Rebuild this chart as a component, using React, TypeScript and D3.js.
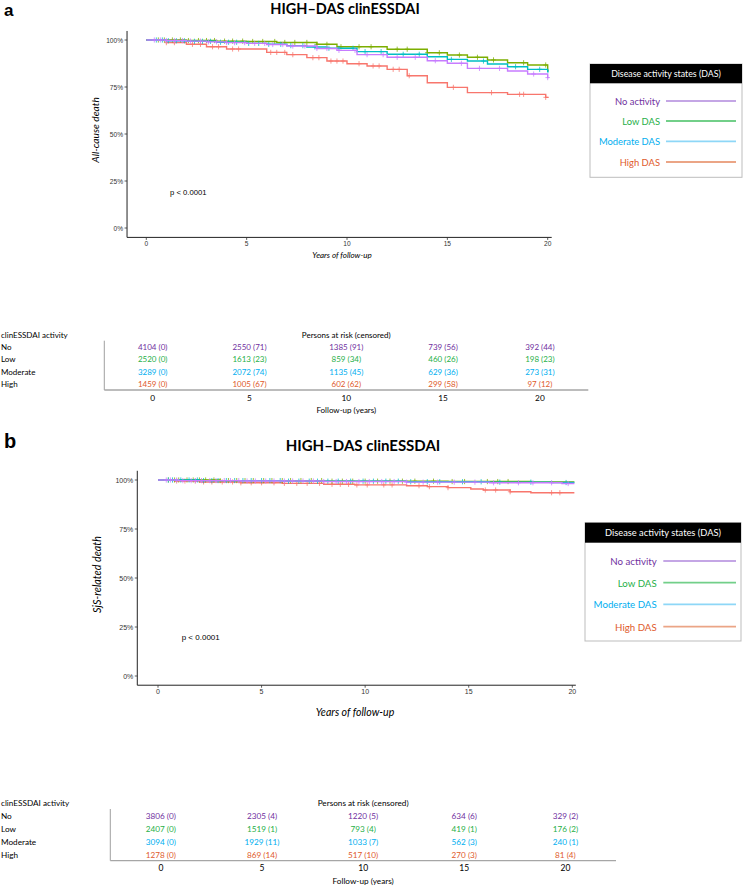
import React from 'react';
import * as d3 from 'd3';

// groups in legend / table order
const groups = ['No', 'Low', 'Moderate', 'High'];
const legendLabels = ['No activity', 'Low DAS', 'Moderate DAS', 'High DAS'];
// draw order of the curves (purple ends up on top)
const drawOrder = ['High', 'Low', 'Moderate', 'No'];

const curveColors: Record<string, string> = {
  High: '#F8766D', Low: '#7CAE00', Moderate: '#00BFC4', No: '#C77CFF',
};
const textColors: Record<string, string> = {
  No: '#7030A0', Low: '#1FAF48', Moderate: '#00AEEF', High: '#E05A2B',
};
const legendLineColors: Record<string, string> = {
  No: '#8A4FCB', Low: '#72CF89', Moderate: '#8ED7F7', High: '#EBA586',
};

const yTicks = [0, 0.25, 0.5, 0.75, 1];
const yTickLabels = ['0%', '25%', '50%', '75%', '100%'];
const xTicks = [0, 5, 10, 15, 20];

// ---- panel a: all-cause death ----
const timesHighA = [0, 1, 2, 3, 4, 6, 7, 8, 9, 10, 11, 12, 13, 14, 15, 16, 18, 19.9];
const survHighA = [1, 0.986, 0.977, 0.964, 0.952, 0.934, 0.922, 0.906, 0.888, 0.874, 0.862, 0.844, 0.81, 0.773, 0.748, 0.72, 0.711, 0.695];
const timesLowA = [0, 2, 3.5, 5, 6.5, 8.5, 9.5, 12, 14, 15, 16, 17, 18, 19, 20];
const survLowA = [1, 0.997, 0.994, 0.992, 0.987, 0.977, 0.964, 0.951, 0.932, 0.92, 0.908, 0.894, 0.879, 0.867, 0.837];
const timesModA = [0, 1, 2, 3.5, 5, 6, 7, 8, 9, 10.5, 12, 14, 15, 16, 17, 18, 19, 20];
const survModA = [1, 0.996, 0.993, 0.988, 0.982, 0.977, 0.97, 0.963, 0.956, 0.938, 0.924, 0.911, 0.897, 0.888, 0.872, 0.858, 0.844, 0.831];
const timesNoA = [0, 1, 2, 3, 4, 5, 6, 7, 8.5, 9.5, 10.5, 12, 14, 15, 16, 18, 19, 20];
const survNoA = [1, 0.997, 0.994, 0.99, 0.986, 0.982, 0.976, 0.968, 0.955, 0.945, 0.922, 0.908, 0.89, 0.876, 0.849, 0.835, 0.819, 0.8];

const censHighA = [1.0, 1.4, 2.3, 2.7, 3.3, 3.6, 4.3, 4.6, 6.2, 6.5, 6.9, 7.3, 8.3, 8.6, 9.2, 9.5, 9.8, 10.6, 11.3, 11.6, 12.3, 12.6, 13.1, 15.3, 17.2, 18.6, 18.8, 19.9];
const censLowA = [0.6, 0.9, 1.3, 1.7, 2.1, 2.6, 3.0, 3.4, 3.9, 4.3, 4.8, 5.3, 5.8, 6.4, 6.9, 7.4, 8.0, 8.5, 9.0, 9.7, 10.6, 11.2, 12.5, 13.0, 14.0, 14.6, 15.6, 16.5, 17.3, 18.8, 19.9];
const censModA = [0.5, 0.8, 1.1, 1.5, 1.9, 2.4, 2.8, 3.2, 3.7, 4.1, 4.5, 5.1, 5.6, 6.1, 6.7, 7.2, 7.8, 8.4, 9.1, 9.6, 10.3, 10.9, 11.7, 12.8, 13.6, 15.2, 16.8, 18.4, 19.6];
const censNoA = [0.4, 0.7, 1.0, 1.4, 1.8, 2.2, 2.7, 3.1, 3.5, 4.0, 4.4, 4.9, 5.4, 5.9, 6.3, 6.8, 7.3, 7.9, 8.5, 9.0, 9.6, 10.4, 11.0, 11.8, 12.5, 13.4, 14.4, 15.7, 16.6, 17.6, 19.3, 20.0];

const riskNoA = [4104, 2550, 1385, 739, 392];
const riskCensNoA = [0, 71, 91, 56, 44];
const riskLowA = [2520, 1613, 859, 460, 198];
const riskCensLowA = [0, 23, 34, 26, 23];
const riskModA = [3289, 2072, 1135, 629, 273];
const riskCensModA = [0, 74, 45, 36, 31];
const riskHighA = [1459, 1005, 602, 299, 97];
const riskCensHighA = [0, 67, 62, 58, 12];

// ---- panel b: SjS-related death ----
const timesHighB = [0, 0.8, 2, 4, 6, 8, 9.5, 12, 13, 14, 15.1, 15.7, 17, 18];
const survHighB = [1, 0.995, 0.99, 0.986, 0.983, 0.978, 0.975, 0.971, 0.966, 0.961, 0.954, 0.949, 0.94, 0.935];
const timesLowB = [0, 3, 8, 14, 18];
const survLowB = [1, 0.997, 0.994, 0.992, 0.99];
const timesModB = [0, 2, 6, 12, 16, 19];
const survModB = [1, 0.997, 0.994, 0.991, 0.989, 0.987];
const timesNoB = [0, 1, 4, 8, 12, 16, 19.5];
const survNoB = [1, 0.997, 0.995, 0.992, 0.989, 0.986, 0.982];

const censHighB = [0.9, 1.3, 1.8, 2.2, 2.6, 3.1, 3.6, 4.0, 4.5, 5.0, 5.6, 6.1, 6.7, 7.2, 7.8, 8.4, 8.8, 9.2, 9.6, 10.1, 10.9, 11.3, 12.6, 13.1, 14.0, 15.8, 16.3, 17.0, 19.0, 19.4];
const censLowB = [0.5, 0.8, 1.0, 1.4, 1.7, 2.0, 2.3, 2.7, 3.0, 3.4, 3.8, 4.2, 4.6, 5.1, 5.5, 6.0, 6.4, 6.9, 7.4, 7.9, 8.4, 8.9, 9.4, 10.0, 10.6, 11.2, 11.8, 12.4, 13.3, 14.2, 14.8, 15.9, 16.4, 16.9];
const censModB = [0.5, 0.7, 1.1, 1.5, 1.9, 2.2, 2.6, 2.9, 3.3, 3.7, 4.1, 4.5, 5.0, 5.4, 5.9, 6.3, 6.8, 7.3, 7.7, 8.2, 8.7, 9.3, 9.9, 10.4, 11.0, 11.6, 12.2, 13.0, 13.6, 14.7, 15.6, 16.5, 18.0, 19.7];
const censNoB = [0.4, 0.6, 0.9, 1.2, 1.6, 1.8, 2.1, 2.5, 2.8, 3.2, 3.5, 3.9, 4.3, 4.7, 5.2, 5.6, 6.1, 6.5, 7.0, 7.5, 8.0, 8.6, 9.1, 9.7, 10.2, 10.8, 11.4, 12.0, 12.8, 13.5, 14.3, 15.3, 16.2, 17.4, 18.1, 19.0, 19.8];

const riskNoB = [3806, 2305, 1220, 634, 329];
const riskCensNoB = [0, 4, 5, 6, 2];
const riskLowB = [2407, 1519, 793, 419, 176];
const riskCensLowB = [0, 1, 4, 1, 2];
const riskModB = [3094, 1929, 1033, 562, 240];
const riskCensModB = [0, 11, 7, 3, 1];
const riskHighB = [1278, 869, 517, 270, 81];
const riskCensHighB = [0, 14, 10, 3, 4];

const SANS = "Lato, 'Open Sans', sans-serif";
const ARIAL = "'Liberation Sans', Arial, sans-serif";

interface Curve { times: number[]; surv: number[]; cens: number[] }
interface Risk { n: number[]; c: number[] }

const stepAt = (times: number[], surv: number[], t: number) => {
  let v = surv[0];
  for (let i = 0; i < times.length; i++) if (times[i] <= t) v = surv[i];
  return v;
};

function Panel({ cfg, curves, risk }: { cfg: any; curves: Record<string, Curve>; risk: Record<string, Risk> }) {
  const x = d3.scaleLinear().domain([0, 20]).range([cfg.x0, cfg.x20]);
  const y = d3.scaleLinear().domain([0, 1]).range([cfg.yBottom, cfg.yTop]);
  const tx = d3.scaleLinear().domain([-2.5, 22.5]).range([cfg.tLeft, cfg.tRight]);
  const line = d3.line<[number, number]>()
    .x(d => x(d[0]))
    .y(d => y(d[1]))
    .curve(d3.curveStepAfter);
  const axX = x(cfg.xMin);
  const axY = y(cfg.yMin);
  const axTop = y(cfg.yMax);
  const axRight = x(cfg.xMax);

  return (
    <g>
      <text x={cfg.labelX} y={cfg.labelY} fontFamily={ARIAL} fontWeight="bold" fontSize={cfg.labelSize}>{cfg.label}</text>
      <text x={cfg.titleX} y={cfg.titleY} textAnchor="middle" fontFamily={SANS} fontWeight="bold" fontSize={cfg.titleSize}>HIGH–DAS clinESSDAI</text>

      {/* curves */}
      {drawOrder.map(g => {
        const c = curves[g];
        const pts: [number, number][] = c.times.map((t, i) => [t, c.surv[i]] as [number, number]);
        pts.push([cfg.endT, c.surv[c.surv.length - 1]]);
        const marks = c.cens.map(t => {
          const cx = x(t);
          const cy = y(stepAt(c.times, c.surv, t));
          return `M${cx - 2.3},${cy}H${cx + 2.3}M${cx},${cy - 2.6}V${cy + 2.6}`;
        }).join('');
        return (
          <g key={g}>
            <path d={line(pts) || ''} fill="none" stroke={curveColors[g]} strokeWidth={1.4} />
            <path d={marks} fill="none" stroke={curveColors[g]} strokeWidth={0.9} opacity={0.85} />
          </g>
        );
      })}

      {/* axes */}
      <line x1={axX} x2={axX} y1={axTop} y2={axY} stroke="#222" strokeWidth={1} />
      <line x1={axX} x2={axRight} y1={axY} y2={axY} stroke="#222" strokeWidth={1} />
      {yTicks.map((t, i) => (
        <g key={t}>
          <line x1={axX - 2.5} x2={axX} y1={y(t)} y2={y(t)} stroke="#333" strokeWidth={0.8} />
          <text x={axX - 4} y={y(t)} dominantBaseline="central" textAnchor="end" fontFamily={ARIAL} fontSize={cfg.tickSize} fill="#333">{yTickLabels[i]}</text>
        </g>
      ))}
      {xTicks.map(t => (
        <g key={t}>
          <line x1={x(t)} x2={x(t)} y1={axY} y2={axY + 2.5} stroke="#333" strokeWidth={0.8} />
          <text x={x(t)} y={cfg.xTickY} dominantBaseline="central" textAnchor="middle" fontFamily={ARIAL} fontSize={cfg.tickSize} fill="#333">{t}</text>
        </g>
      ))}
      <text x={cfg.xTitleX} y={cfg.xTitleY} dominantBaseline="central" textAnchor="middle" fontFamily={SANS} fontStyle="italic" fontSize={cfg.xTitleSize}>Years of follow-up</text>
      <text transform={`translate(${cfg.yTitleX},${cfg.yTitleY}) rotate(-90)`} dominantBaseline="central" textAnchor="middle" fontFamily={SANS} fontStyle="italic" fontSize={cfg.yTitleSize}>{cfg.yTitle}</text>
      <text x={cfg.pX} y={cfg.pY} dominantBaseline="central" fontFamily={ARIAL} fontSize={cfg.pSize}>p &lt; 0.0001</text>

      {/* legend */}
      <rect x={cfg.lgX} y={cfg.lgY} width={cfg.lgW} height={cfg.lgH} fill="#fff" stroke="#bdbdbd" strokeWidth={1} />
      <rect x={cfg.lgX} y={cfg.lgY} width={cfg.lgW} height={cfg.lgHeadH} fill="#000" />
      <text x={cfg.lgX + cfg.lgW / 2} y={cfg.lgY + cfg.lgHeadH / 2} dominantBaseline="central" textAnchor="middle" fontFamily={SANS} fontSize={cfg.lgHeadSize} fill="#fff">Disease activity states (DAS)</text>
      {groups.map((g, i) => (
        <g key={g}>
          <text x={cfg.lgTextR} y={cfg.lgRows[i]} dominantBaseline="central" textAnchor="end" fontFamily={SANS} fontSize={cfg.lgRowSize} fill={textColors[g]}>{legendLabels[i]}</text>
          <line x1={cfg.lgLine0} x2={cfg.lgLine1} y1={cfg.lgRows[i]} y2={cfg.lgRows[i]} stroke={legendLineColors[g]} strokeWidth={g === 'No' ? 1.2 : 1.8} />
        </g>
      ))}

      {/* risk table */}
      <text x={1} y={cfg.tTitleY} dominantBaseline="central" fontFamily={SANS} fontSize={cfg.tSize}>clinESSDAI activity</text>
      <text x={tx(10)} y={cfg.tTitleY} dominantBaseline="central" textAnchor="middle" fontFamily={SANS} fontSize={cfg.tSize}>Persons at risk (censored)</text>
      {groups.map((g, i) => (
        <g key={g}>
          <text x={1} y={cfg.tRows[i]} dominantBaseline="central" fontFamily={SANS} fontSize={cfg.tSize}>{g}</text>
          {xTicks.map((t, j) => (
            <text key={t} x={tx(t)} y={cfg.tRows[i]} dominantBaseline="central" textAnchor="middle" fontFamily={SANS} fontSize={cfg.tSize} fill={textColors[g]}>
              {`${risk[g].n[j]} (${risk[g].c[j]})`}
            </text>
          ))}
        </g>
      ))}
      <line x1={cfg.tLeft} x2={cfg.tLeft} y1={cfg.tLineTop} y2={cfg.tLineY} stroke="#888" strokeWidth={0.8} />
      <line x1={cfg.tLeft} x2={cfg.tRight} y1={cfg.tLineY} y2={cfg.tLineY} stroke="#a6a6a6" strokeWidth={1.3} />
      {xTicks.map(t => (
        <text key={t} x={tx(t)} y={cfg.tTickY} dominantBaseline="central" textAnchor="middle" fontFamily={SANS} fontSize={cfg.tSize + 0.3}>{t}</text>
      ))}
      <text x={tx(10)} y={cfg.tAxisTitleY} dominantBaseline="central" textAnchor="middle" fontFamily={SANS} fontSize={cfg.tSize}>Follow-up (years)</text>
    </g>
  );
}

const cfgA = {
  label: 'a', labelX: 4, labelY: 15.5, labelSize: 17,
  titleX: 345, titleY: 13.5, titleSize: 14.5,
  x0: 146.3, x20: 547.7, yBottom: 228, yTop: 40,
  xMin: -0.96, xMax: 20.2, yMin: -0.05, yMax: 1.048, endT: 20.05,
  tickSize: 6.6, xTickY: 243.5,
  xTitleX: 342, xTitleY: 255, xTitleSize: 8,
  yTitleX: 94.5, yTitleY: 130, yTitleSize: 10.2, yTitle: 'All-cause death',
  pX: 170, pY: 192, pSize: 7.7,
  lgX: 590, lgY: 64, lgW: 152, lgH: 113.3, lgHeadH: 19.3, lgHeadSize: 8.8, lgRowSize: 9.4,
  lgRows: [101, 121, 141.3, 162], lgTextR: 660, lgLine0: 666, lgLine1: 736,
  tTitleY: 335, tRows: [346.7, 359.3, 372, 384], tLeft: 104.3, tRight: 588.3,
  tLineTop: 340.7, tLineY: 390, tTickY: 397.5, tAxisTitleY: 410, tSize: 8,
};

const cfgB = {
  label: 'b', labelX: 4, labelY: 448, labelSize: 20,
  titleX: 363, titleY: 451, titleSize: 15,
  x0: 158, x20: 572.3, yBottom: 676, yTop: 480,
  xMin: -1.0, xMax: 20.17, yMin: -0.047, yMax: 1.047, endT: 20.1,
  tickSize: 7, xTickY: 691.7,
  xTitleX: 355, xTitleY: 712.3, xTitleSize: 10.6,
  yTitleX: 96.7, yTitleY: 574.5, yTitleSize: 10.8, yTitle: 'SjS-related death',
  pX: 181.7, pY: 637.3, pSize: 8,
  lgX: 585, lgY: 522.7, lgW: 156, lgH: 118.3, lgHeadH: 20, lgHeadSize: 9.3, lgRowSize: 9.7,
  lgRows: [561, 582.7, 604.3, 626.7], lgTextR: 656.7, lgLine0: 663.3, lgLine1: 736,
  tTitleY: 803.3, tRows: [816, 829, 842, 855], tLeft: 110.3, tRight: 616,
  tLineTop: 809, tLineY: 860.7, tTickY: 868.3, tAxisTitleY: 881, tSize: 8.2,
};

const curvesA: Record<string, Curve> = {
  High: { times: timesHighA, surv: survHighA, cens: censHighA },
  Low: { times: timesLowA, surv: survLowA, cens: censLowA },
  Moderate: { times: timesModA, surv: survModA, cens: censModA },
  No: { times: timesNoA, surv: survNoA, cens: censNoA },
};
const curvesB: Record<string, Curve> = {
  High: { times: timesHighB, surv: survHighB, cens: censHighB },
  Low: { times: timesLowB, surv: survLowB, cens: censLowB },
  Moderate: { times: timesModB, surv: survModB, cens: censModB },
  No: { times: timesNoB, surv: survNoB, cens: censNoB },
};
const riskA: Record<string, Risk> = {
  No: { n: riskNoA, c: riskCensNoA },
  Low: { n: riskLowA, c: riskCensLowA },
  Moderate: { n: riskModA, c: riskCensModA },
  High: { n: riskHighA, c: riskCensHighA },
};
const riskB: Record<string, Risk> = {
  No: { n: riskNoB, c: riskCensNoB },
  Low: { n: riskLowB, c: riskCensLowB },
  Moderate: { n: riskModB, c: riskCensModB },
  High: { n: riskHighB, c: riskCensHighB },
};

export default function App() {
  return (
    <svg
      width={743}
      height={887}
      viewBox="0 0 743 887"
      style={{ position: 'absolute', left: 0, top: 0, background: '#fff' }}
    >
      <rect width={743} height={887} fill="#fff" />
      <Panel cfg={cfgA} curves={curvesA} risk={riskA} />
      <Panel cfg={cfgB} curves={curvesB} risk={riskB} />
    </svg>
  );
}
